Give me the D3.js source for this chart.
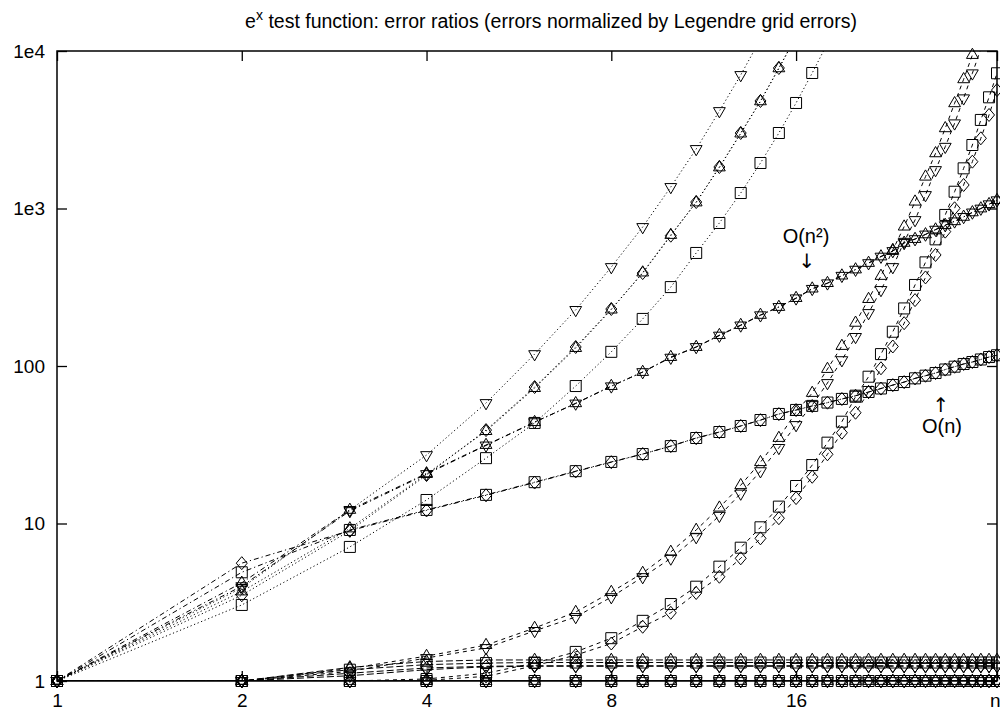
<!DOCTYPE html>
<html>
<head>
<meta charset="utf-8">
<script src="https://cdn.jsdelivr.net/npm/d3@7"></script>
<style>
  body { margin: 0; background: #fff; }
  svg { display: block; }
  text { font-family: "Liberation Sans", Arial, Helvetica, sans-serif; fill: #000; }
</style>
</head>
<body>
<svg id="chart" width="1000" height="710"></svg>
<script>
// grid size n (x axis)
const nValues = [1,2,3,4,5,6,7,8,9,10,11,12,13,14,15,16,17,18,19,20,21,22,23,24,25,26,27,28,29,30,31,32,33,34];

// axis ticks
const xTickValues = [1, 2, 4, 8, 16, 34];
const xTickLabels = ["1", "2", "4", "8", "16", "n"];
const yTickValues = [1, 10, 100, 1000, 10000];
const yTickLabels = ["1", "10", "100", "1e3", "1e4"];

// error ratios, one value per n starting at n = 1
const dotDown    = [1, 3.9, 12.2, 27.2, 58.2, 119, 227, 425, 763, 1370, 2387, 4158, 7040, 11900];
const dotDiamond = [1, 3.5, 9.0, 20.3, 39.2, 73.5, 132, 230, 389, 672, 1099, 1834, 3015, 4816, 7800, 12400];
const dotUp      = [1, 3.7, 9.3, 20.6, 38.6, 72.4, 130, 228, 392, 679, 1092, 1822, 2990, 4790, 7760, 12300];
const dotSquare  = [1, 3.04, 7.1, 14.1, 26.0, 43.5, 74.6, 123, 199, 317, 522, 809, 1254, 1945, 3015, 4677, 7250, 11200];

const quadUp   = [1, 4.2, 12.2, 20.8, 31.5, 44.0, 58.0, 74.6, 91.6, 114, 132, 157, 182, 211, 237, 270, 310, 336, 375, 410, 451, 496, 537, 605, 640, 685, 735, 785, 830, 885, 945, 1000, 1065, 1130];
const quadDown = [1, 4.0, 12.0, 20.6, 31.3, 44.0, 57.8, 74.3, 91.5, 113, 132, 156, 181, 210, 237, 269, 309, 335, 374, 409, 450, 495, 537, 604, 639, 684, 734, 784, 829, 884, 944, 999, 1064, 1128];

const linSquare  = [1, 4.9, 9.1, 12.2, 15.2, 18.3, 21.5, 24.6, 27.6, 31.0, 34.9, 38.1, 41.6, 45.4, 49.6, 52.6, 55.8, 58.6, 61.8, 64.8, 68.4, 72.0, 75.7, 79.1, 83.5, 86.8, 90.3, 95.0, 99.0, 103, 106, 110, 114, 117];
const linDiamond = [1, 5.6, 9.0, 12.1, 15.1, 18.2, 21.4, 24.5, 27.6, 31.0, 34.8, 38.0, 41.6, 45.3, 49.5, 52.5, 55.7, 58.5, 61.7, 64.7, 68.3, 71.9, 75.6, 79.0, 83.4, 86.7, 90.2, 94.9, 98.9, 103, 106, 110, 114, 117];

const growUp      = [1, 1, 1.20, 1.44, 1.69, 2.17, 2.74, 3.67, 4.85, 6.6, 9.1, 12.6, 17.5, 24.5, 34.9, 51.0, 67.4, 95.7, 134, 188, 266, 373, 545, 767, 1105, 1592, 2240, 3230, 4655, 6610, 9430, 13400];
const growDown    = [1, 1, 1.15, 1.40, 1.62, 2.08, 2.55, 3.41, 4.57, 6.0, 8.2, 11.2, 15.5, 21.5, 30.2, 42.2, 56.5, 78.0, 109, 153, 217, 304, 425, 615, 845, 1218, 1755, 2467, 3475, 5010, 7220, 10300];
const growSquare  = [1, 1, 1.0, 1.03, 1.12, 1.30, 1.53, 1.87, 2.41, 3.08, 3.97, 5.32, 7.02, 9.46, 12.8, 17.3, 23.5, 32.6, 44.3, 63.8, 85.5, 119, 165, 232, 327, 455, 637, 910, 1278, 1799, 2530, 3650, 5080, 7220];
const growDiamond = [1, 1, 1.0, 1.01, 1.07, 1.25, 1.46, 1.73, 2.21, 2.71, 3.62, 4.59, 6.01, 8.05, 10.8, 14.5, 19.8, 27.5, 37.7, 50.5, 68.4, 96.7, 133, 187, 262, 365, 507, 713, 1003, 1410, 1983, 2790, 3925, 5650];

const flatUp      = [1, 1, 1.22, 1.33, 1.36, 1.36, 1.36, 1.36, 1.36, 1.36, 1.36, 1.36, 1.36, 1.36, 1.36, 1.36, 1.36, 1.36, 1.36, 1.36, 1.36, 1.36, 1.36, 1.36, 1.36, 1.36, 1.36, 1.36, 1.36, 1.36, 1.36, 1.36, 1.36, 1.36];
const flatSquare  = [1, 1, 1.18, 1.27, 1.30, 1.31, 1.31, 1.31, 1.31, 1.31, 1.31, 1.31, 1.31, 1.31, 1.31, 1.31, 1.31, 1.31, 1.31, 1.31, 1.31, 1.31, 1.31, 1.31, 1.31, 1.31, 1.31, 1.31, 1.31, 1.31, 1.31, 1.31, 1.31, 1.31];
const flatDiamond = [1, 1, 1.12, 1.21, 1.24, 1.25, 1.25, 1.25, 1.25, 1.25, 1.25, 1.25, 1.25, 1.25, 1.25, 1.25, 1.25, 1.25, 1.25, 1.25, 1.25, 1.25, 1.25, 1.25, 1.25, 1.25, 1.25, 1.25, 1.25, 1.25, 1.25, 1.25, 1.25, 1.25];
const flatDown    = [1, 1, 1.08, 1.18, 1.23, 1.24, 1.24, 1.24, 1.24, 1.24, 1.24, 1.24, 1.24, 1.24, 1.24, 1.24, 1.24, 1.24, 1.24, 1.24, 1.24, 1.24, 1.24, 1.24, 1.24, 1.24, 1.24, 1.24, 1.24, 1.24, 1.24, 1.24, 1.24, 1.24];

const unitRatio = [1, 1, 1, 1, 1, 1, 1, 1, 1, 1, 1, 1, 1, 1, 1, 1, 1, 1, 1, 1, 1, 1, 1, 1, 1, 1, 1, 1, 1, 1, 1, 1, 1, 1];

// dash patterns and point shapes per curve
const DASH = { solid: null, dotted: "1.2,2.6", dashdot: "5,3,1.2,3", dashed: "4,4", longdash: "7,3" };

const series = [
  { values: unitRatio,   shape: "square",  dash: "solid" },
  { values: unitRatio,   shape: "diamond", dash: "solid" },
  { values: unitRatio,   shape: "up",      dash: "solid" },
  { values: unitRatio,   shape: "down",    dash: "solid" },
  { values: flatUp,      shape: "up",      dash: "longdash" },
  { values: flatSquare,  shape: "square",  dash: "longdash" },
  { values: flatDiamond, shape: "diamond", dash: "longdash" },
  { values: flatDown,    shape: "down",    dash: "longdash" },
  { values: growUp,      shape: "up",      dash: "dashed" },
  { values: growDown,    shape: "down",    dash: "dashed" },
  { values: growSquare,  shape: "square",  dash: "dashed" },
  { values: growDiamond, shape: "diamond", dash: "dashed" },
  { values: linSquare,   shape: "square",  dash: "dashdot" },
  { values: linDiamond,  shape: "diamond", dash: "dashdot" },
  { values: quadUp,      shape: "up",      dash: "dashdot" },
  { values: quadDown,    shape: "down",    dash: "dashdot" },
  { values: dotSquare,   shape: "square",  dash: "dotted" },
  { values: dotUp,       shape: "up",      dash: "dotted" },
  { values: dotDiamond,  shape: "diamond", dash: "dotted" },
  { values: dotDown,     shape: "down",    dash: "dotted" }
];

const SHAPES = {
  square:  "M-5.5,-5.5H5.5V5.5H-5.5Z",
  diamond: "M0,-6.5L5.5,0L0,6.5L-5.5,0Z",
  up:      "M0,-6.8L5.9,3.4L-5.9,3.4Z",
  down:    "M0,6.8L5.9,-3.4L-5.9,-3.4Z"
};

const plot = { left: 57, right: 997, top: 51, bottom: 681 };

const svg = d3.select("#chart");

const x = d3.scaleLog().base(2).domain([1, 34]).range([plot.left, plot.right]);
const y = d3.scaleLog().base(10).domain([1, 1e4]).range([plot.bottom, plot.top]);

svg.append("defs").append("clipPath").attr("id", "plot-clip")
  .append("rect")
  .attr("x", plot.left).attr("y", plot.top)
  .attr("width", plot.right - plot.left).attr("height", plot.bottom - plot.top);

// title with superscript x
const title = svg.append("text")
  .attr("x", 551).attr("y", 28)
  .attr("text-anchor", "middle")
  .style("font-size", "19.5px");
title.append("tspan").text("e");
title.append("tspan").attr("dy", -8).style("font-size", "14px").text("x");
title.append("tspan").attr("dy", 8).text(" test function: error ratios (errors normalized by Legendre grid errors)");

// axes with inward ticks on all four sides
const fmtX = (d) => xTickLabels[xTickValues.indexOf(d)];
const fmtY = (d) => yTickLabels[yTickValues.indexOf(d)];

const axisStyle = (g) => {
  g.select(".domain").remove();
  g.selectAll(".tick line").attr("stroke", "#000").attr("stroke-width", 1.3);
  g.selectAll(".tick text").style("font-size", "19px").attr("font-family", null);
};

const xAxisG = svg.append("g").attr("transform", `translate(0,${plot.bottom})`)
  .call(d3.axisBottom(x).tickValues(xTickValues).tickFormat(fmtX).tickSizeInner(-10).tickSizeOuter(0).tickPadding(13))
  .call(axisStyle);
// the last label sits at the right edge of the frame; keep it inside the page
xAxisG.selectAll(".tick").filter((d) => d === 34).select("text")
  .attr("text-anchor", "end").attr("x", 3);

svg.append("g").attr("transform", `translate(0,${plot.top})`)
  .call(d3.axisTop(x).tickValues(xTickValues).tickFormat("").tickSizeInner(-10).tickSizeOuter(0))
  .call(axisStyle);
svg.append("g").attr("transform", `translate(${plot.left},0)`)
  .call(d3.axisLeft(y).tickValues(yTickValues).tickFormat(fmtY).tickSizeInner(-10).tickSizeOuter(0).tickPadding(12))
  .call(axisStyle);
svg.append("g").attr("transform", `translate(${plot.right},0)`)
  .call(d3.axisRight(y).tickValues(yTickValues).tickFormat("").tickSizeInner(-10).tickSizeOuter(0))
  .call(axisStyle);

// curves
const line = d3.line()
  .x((d) => x(d.n))
  .y((d) => y(d.v));

const curves = svg.append("g").attr("clip-path", "url(#plot-clip)");
const marks = svg.append("g");

series.forEach((s) => {
  const pts = s.values.map((v, i) => ({ n: nValues[i], v }));
  curves.append("path")
    .datum(pts)
    .attr("d", line)
    .attr("fill", "none")
    .attr("stroke", "#000")
    .attr("stroke-width", 1)
    .attr("stroke-dasharray", DASH[s.dash]);
  marks.selectAll(null)
    .data(pts.filter((p) => p.v <= 1e4))
    .join("path")
    .attr("transform", (p) => `translate(${x(p.n)},${y(p.v)})`)
    .attr("d", SHAPES[s.shape])
    .attr("fill", "none")
    .attr("stroke", "#000")
    .attr("stroke-width", 1);
});

// frame
svg.append("rect")
  .attr("x", plot.left).attr("y", plot.top)
  .attr("width", plot.right - plot.left).attr("height", plot.bottom - plot.top)
  .attr("fill", "none").attr("stroke", "#000").attr("stroke-width", 1.5);

// growth-rate annotations
svg.append("text").attr("x", 806).attr("y", 243).attr("text-anchor", "middle")
  .style("font-size", "20px").text("O(n²)");
svg.append("text").attr("x", 807).attr("y", 268).attr("text-anchor", "middle")
  .style("font-family", "'DejaVu Sans', sans-serif").style("font-size", "20px").text("↓");
svg.append("text").attr("x", 941).attr("y", 412).attr("text-anchor", "middle")
  .style("font-family", "'DejaVu Sans', sans-serif").style("font-size", "20px").text("↑");
svg.append("text").attr("x", 942).attr("y", 433).attr("text-anchor", "middle")
  .style("font-size", "20px").text("O(n)");
</script>
</body>
</html>
